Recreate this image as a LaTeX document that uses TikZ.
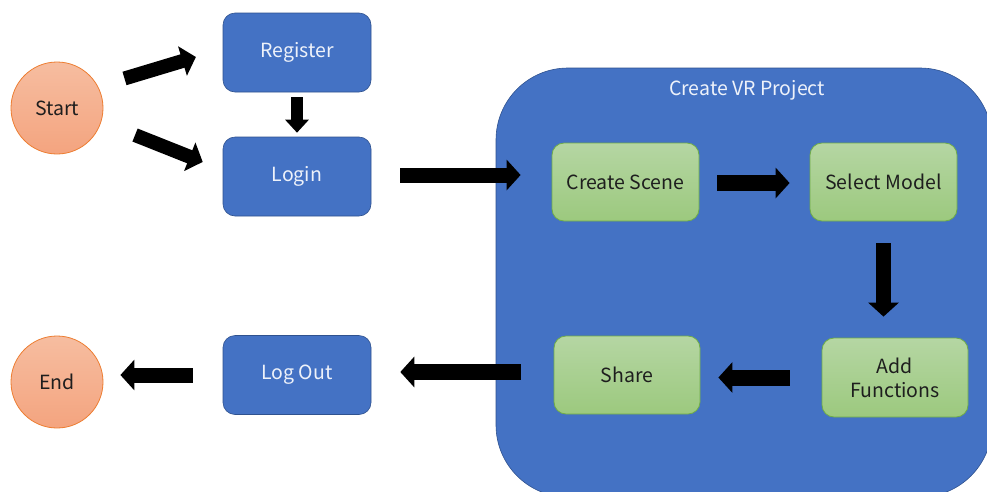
\documentclass[tikz,border=0pt]{standalone}
\usepackage{fontspec}
\setmainfont{Noto Sans CJK JP}
\usetikzlibrary{arrows.meta,calc}

\definecolor{boxblue}{HTML}{4472C4}
\definecolor{edgeblue}{HTML}{2F528F}
\definecolor{greentop}{HTML}{B5D6A3}
\definecolor{greenbot}{HTML}{9CC97E}
\definecolor{greenedge}{HTML}{70AD47}
\definecolor{orangetop}{HTML}{F6BDA0}
\definecolor{orangebot}{HTML}{F4A47F}
\definecolor{orangeedge}{HTML}{ED7D31}
\definecolor{paletext}{HTML}{EEF2FA}
\definecolor{darktext}{HTML}{1E1E1E}

\tikzset{
  every node/.style={font=\fontsize{19.5}{24}\selectfont},
  termcircle/.style={circle, minimum size=92pt, inner sep=0pt, draw=orangeedge,
    line width=0.8pt, top color=orangetop, bottom color=orangebot, text=darktext},
  bluebox/.style={rectangle, rounded corners=12pt, minimum width=148pt,
    minimum height=79pt, draw=edgeblue, line width=0.6pt, fill=boxblue, text=paletext},
  greenbox/.style={rectangle, rounded corners=12pt, minimum width=147pt,
    minimum height=78pt, draw=greenedge, line width=0.8pt, top color=greentop,
    bottom color=greenbot, text=darktext, align=center},
  blockarrow/.style={line width=15pt, black, -{Triangle[length=14pt,width=30pt]}},
  slimarrow/.style={line width=12pt, black, -{Triangle[length=13pt,width=23pt]}}
}

\begin{document}
\begin{tikzpicture}[x=1pt,y=-1pt]
  \useasboundingbox (0,0) rectangle (987,491);
  \clip (0,0) rectangle (987,491);
  \fill[white] (0,0) rectangle (987,491);

  % group container for the VR project steps
  \draw[fill=boxblue, draw=edgeblue, line width=0.6pt, rounded corners=72pt]
    (496,68) rectangle (992,497);
  \node[text=paletext] (vrtitle) at (747,90) {Create VR Project};

  % terminals
  \node[termcircle] (start)  at (57,108) {Start};
  \node[termcircle] (finish) at (57,382) {End};

  % account steps
  \node[bluebox] (register) at (297,52.5)  {Register};
  \node[bluebox] (login)    at (297,176.5) {Login};
  \node[bluebox] (logout)   at (297,375)   {Log Out};

  % project steps
  \node[greenbox] (scene) at (625.5,182)   {Create Scene};
  \node[greenbox] (model) at (883.5,182)   {Select Model};
  \node[greenbox, minimum width=146pt, minimum height=79pt]
                  (addfn) at (895,377.5)   {Add\\Functions};
  \node[greenbox, minimum width=146pt] (share) at (627,375) {Share};

  % connectors
  \draw[blockarrow, line width=14pt, shorten <=70.5pt, shorten >=28pt]
    ([yshift=9.2pt]start.center) -- ([yshift=3.6pt]register.west);
  \draw[blockarrow, line width=14pt, shorten <=84pt, shorten >=21.5pt]
    ([yshift=4pt]start.center) -- ([yshift=6.6pt]login.west);
  \draw[slimarrow, shorten <=5pt, shorten >=4pt]
    (register.south) -- (login.north);
  \draw[blockarrow, shorten <=29pt, shorten >=31pt]
    ([yshift=1.5pt]login.east) -- ([yshift=1.5pt]login.east -| scene.west);
  \draw[blockarrow, line width=16pt, shorten <=18pt, shorten >=20pt]
    ([yshift=-1pt]scene.east) -- ([yshift=-1pt]scene.east -| model.west);
  \draw[blockarrow, shorten <=22pt, shorten >=21pt]
    (model.south) -- (model.south |- addfn.north);
  \draw[blockarrow, line width=16pt, shorten <=32pt, shorten >=18pt]
    (addfn.west) -- (addfn.west -| share.east);
  \draw[blockarrow, line width=16pt, shorten <=33pt, shorten >=29pt]
    ([yshift=3pt]share.west) -- ([yshift=3pt]share.west -| logout.east);
  \draw[blockarrow, shorten <=30pt, shorten >=17pt]
    (logout.west) -- (logout.west -| finish.east);
\end{tikzpicture}
\end{document}
